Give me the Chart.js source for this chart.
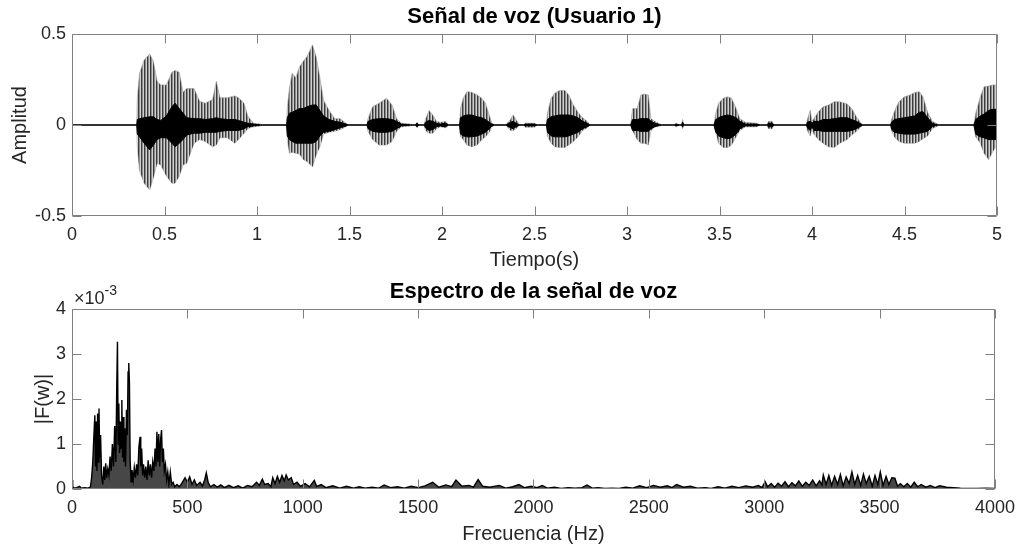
<!DOCTYPE html>
<html>
<head>
<meta charset="utf-8">
<script src="https://cdn.jsdelivr.net/npm/chart.js@4.4.1/dist/chart.umd.min.js"></script>
<style>
  body { margin: 0; background: #fff; }
  #fig { position: relative; width: 1023px; height: 548px; }
  canvas { position: absolute; left: 0; }
</style>
</head>
<body>
<div id="fig">
  <canvas id="senal" width="1023" height="274" style="top:0"></canvas>
  <canvas id="espectro" width="1023" height="274" style="top:274px"></canvas>
</div>
<script>
// --- señal de voz: envolvente (picos) y núcleo oscuro ---
const tiempo = [0, 0.35,
  0.353, 0.365, 0.39, 0.42, 0.44, 0.46, 0.48, 0.51, 0.54, 0.557, 0.58, 0.60, 0.62, 0.66, 0.69, 0.72, 0.76, 0.78, 0.80, 0.84, 0.88, 0.90, 0.93, 0.95, 0.98, 1.02, 1.03,
  1.16, 1.164, 1.175, 1.19, 1.21, 1.23, 1.25, 1.27, 1.30, 1.32, 1.34, 1.36, 1.39, 1.42, 1.45, 1.48, 1.495,
  1.595, 1.60, 1.625, 1.66, 1.70, 1.73, 1.755, 1.78, 1.83, 1.84, 1.855, 1.865, 1.875,
  1.905, 1.91, 1.93, 1.95, 1.97, 1.99, 2.02, 2.035,
  2.095, 2.10, 2.115, 2.135, 2.16, 2.19, 2.215, 2.235, 2.255, 2.27, 2.285,
  2.345, 2.37, 2.385, 2.40, 2.42, 2.44, 2.45, 2.50, 2.515,
  2.565, 2.57, 2.59, 2.61, 2.635, 2.665, 2.685, 2.71, 2.735, 2.76, 2.785, 2.80,
  3.02, 3.03, 3.055, 3.075, 3.095, 3.115, 3.13, 3.15, 3.18, 3.19,
  3.255, 3.265, 3.285, 3.295, 3.30, 3.31,
  3.47, 3.48, 3.495, 3.52, 3.545, 3.565, 3.59, 3.61, 3.64, 3.70, 3.72, 3.755, 3.765, 3.785, 3.795,
  3.97, 3.975, 3.99, 4.0, 4.01, 4.035, 4.06, 4.09, 4.12, 4.15, 4.19, 4.215, 4.24, 4.265, 4.275,
  4.425, 4.43, 4.445, 4.47, 4.50, 4.53, 4.555, 4.58, 4.60, 4.625, 4.65, 4.68, 4.69,
  4.875, 4.885, 4.91, 4.93, 4.955, 4.975, 5.0];
const envSup = [0, 0,
  0.15, 0.284, 0.357, 0.39, 0.35, 0.24, 0.22, 0.22, 0.29, 0.3, 0.29, 0.18, 0.2, 0.2, 0.13, 0.12, 0.14, 0.24, 0.15, 0.15, 0.16, 0.15, 0.12, 0.05, 0.01, 0.005, 0,
  0, 0.1, 0.2, 0.285, 0.26, 0.32, 0.35, 0.375, 0.44, 0.375, 0.26, 0.135, 0.08, 0.035, 0.035, 0.01, 0,
  0, 0.035, 0.1, 0.12, 0.147, 0.11, 0.035, 0.01, 0.005, 0, 0, 0.015, 0,
  0, 0.03, 0.08, 0.055, 0.02, 0.015, 0.02, 0,
  0, 0.09, 0.147, 0.183, 0.18, 0.165, 0.147, 0.12, 0.055, 0.01, 0,
  0, 0.03, 0.055, 0.03, 0, 0, 0.01, 0.01, 0,
  0, 0.065, 0.147, 0.175, 0.19, 0.19, 0.165, 0.11, 0.07, 0.04, 0.02, 0,
  0, 0.09, 0.09, 0.165, 0.17, 0.165, 0.035, 0.02, 0.005, 0,
  0, 0.01, 0, 0, 0.03, 0,
  0, 0.065, 0.12, 0.147, 0.155, 0.147, 0.09, 0.035, 0.015, 0.01, 0, 0, 0.02, 0.02, 0,
  0, 0.03, 0.08, 0.02, 0.035, 0.073, 0.1, 0.11, 0.128, 0.128, 0.115, 0.09, 0.045, 0.01, 0,
  0, 0.03, 0.073, 0.128, 0.155, 0.165, 0.178, 0.183, 0.155, 0.07, 0.02, 0.005, 0,
  0, 0.065, 0.155, 0.21, 0.214, 0.22, 0.22];
const envInf = [0, 0,
  -0.12, -0.25, -0.32, -0.357, -0.29, -0.21, -0.22, -0.28, -0.32, -0.32, -0.28, -0.22, -0.21, -0.1, -0.08, -0.09, -0.12, -0.11, -0.07, -0.07, -0.1, -0.08, -0.045, -0.02, -0.01, -0.005, 0,
  0, -0.08, -0.155, -0.15, -0.155, -0.16, -0.19, -0.2, -0.23, -0.165, -0.12, -0.05, -0.04, -0.035, -0.025, -0.01, 0,
  0, -0.035, -0.08, -0.11, -0.11, -0.09, -0.035, -0.01, -0.005, 0, 0, -0.015, 0,
  0, -0.03, -0.045, -0.045, -0.02, -0.01, -0.015, 0,
  0, -0.065, -0.08, -0.11, -0.12, -0.11, -0.08, -0.065, -0.04, -0.01, 0,
  0, -0.03, -0.03, -0.02, 0, 0, -0.012, -0.012, 0,
  0, -0.06, -0.1, -0.12, -0.123, -0.123, -0.11, -0.09, -0.065, -0.03, -0.015, 0,
  0, -0.03, -0.08, -0.1, -0.1, -0.11, -0.03, -0.01, -0.005, 0,
  0, -0.01, 0, 0, -0.02, 0,
  0, -0.04, -0.1, -0.123, -0.123, -0.11, -0.065, -0.03, -0.01, -0.01, 0, 0, -0.02, -0.02, 0,
  0, -0.03, -0.06, -0.02, -0.05, -0.08, -0.1, -0.12, -0.123, -0.1, -0.08, -0.055, -0.035, -0.01, 0,
  0, -0.03, -0.065, -0.09, -0.1, -0.1, -0.1, -0.09, -0.075, -0.06, -0.02, -0.005, 0,
  0, -0.065, -0.1, -0.155, -0.19, -0.15, -0.11];
const nucSup = [0, 0,
  0.03, 0.035, 0.04, 0.045, 0.045, 0.03, 0.025, 0.05, 0.1, 0.12, 0.09, 0.065, 0.04, 0.035, 0.035, 0.03, 0.035, 0.04, 0.035, 0.03, 0.03, 0.025, 0.015, 0.01, 0.005, 0, 0,
  0, 0.04, 0.065, 0.07, 0.08, 0.09, 0.09, 0.1, 0.11, 0.11, 0.08, 0.05, 0.03, 0.02, 0.015, 0.005, 0,
  0, 0.02, 0.03, 0.035, 0.035, 0.03, 0.02, 0.005, 0, 0, 0, 0.01, 0,
  0, 0.015, 0.025, 0.02, 0.01, 0.005, 0.01, 0,
  0, 0.04, 0.05, 0.055, 0.055, 0.045, 0.04, 0.03, 0.015, 0.005, 0,
  0, 0.015, 0.02, 0.01, 0, 0, 0.005, 0.005, 0,
  0, 0.03, 0.046, 0.05, 0.055, 0.055, 0.055, 0.05, 0.04, 0.02, 0.01, 0,
  0, 0.03, 0.03, 0.035, 0.035, 0.035, 0.02, 0.01, 0, 0,
  0, 0.005, 0, 0, 0.015, 0,
  0, 0.03, 0.04, 0.05, 0.055, 0.05, 0.04, 0.02, 0.005, 0.005, 0, 0, 0.01, 0.01, 0,
  0, 0.015, 0.02, 0.01, 0.02, 0.02, 0.03, 0.03, 0.035, 0.04, 0.04, 0.03, 0.02, 0.005, 0,
  0, 0.015, 0.03, 0.035, 0.04, 0.045, 0.05, 0.07, 0.073, 0.04, 0.01, 0, 0,
  0, 0.03, 0.05, 0.06, 0.08, 0.086, 0.086];
const nucInf = [0, 0,
  -0.05, -0.065, -0.1, -0.137, -0.11, -0.08, -0.07, -0.07, -0.1, -0.12, -0.1, -0.08, -0.055, -0.045, -0.045, -0.04, -0.04, -0.04, -0.035, -0.03, -0.03, -0.03, -0.02, -0.01, -0.005, 0, 0,
  0, -0.06, -0.08, -0.09, -0.1, -0.1, -0.1, -0.1, -0.1, -0.09, -0.06, -0.04, -0.035, -0.025, -0.015, -0.005, 0,
  0, -0.02, -0.035, -0.04, -0.04, -0.035, -0.02, -0.005, 0, 0, 0, -0.01, 0,
  0, -0.015, -0.03, -0.025, -0.01, -0.005, -0.01, 0,
  0, -0.05, -0.06, -0.065, -0.065, -0.06, -0.05, -0.04, -0.02, -0.005, 0,
  0, -0.015, -0.02, -0.01, 0, 0, -0.005, -0.005, 0,
  0, -0.04, -0.06, -0.065, -0.065, -0.065, -0.06, -0.05, -0.04, -0.02, -0.01, 0,
  0, -0.03, -0.03, -0.035, -0.035, -0.035, -0.02, -0.01, 0, 0,
  0, -0.005, 0, 0, -0.01, 0,
  0, -0.04, -0.06, -0.07, -0.075, -0.07, -0.05, -0.02, -0.005, -0.005, 0, 0, -0.01, -0.01, 0,
  0, -0.015, -0.03, -0.01, -0.03, -0.03, -0.035, -0.035, -0.035, -0.035, -0.035, -0.03, -0.02, -0.005, 0,
  0, -0.02, -0.04, -0.045, -0.05, -0.05, -0.05, -0.045, -0.04, -0.035, -0.01, 0, 0,
  0, -0.05, -0.065, -0.07, -0.08, -0.08, -0.08];

// --- espectro |F(w)| en unidades de 1e-3 ---
const frecuencia = [0, 3, 10, 20, 33, 40, 55, 70, 80,
  85, 90, 95, 99, 102, 105, 108, 111, 114, 117, 120, 124,
  128, 133, 138, 142, 146, 150, 155, 160, 165, 170, 175, 180, 185, 190,
  194, 197, 200, 203, 206, 210, 213, 216, 219, 222, 225, 228, 232, 236, 240, 243, 246, 249,
  252, 256, 260, 265, 270, 275, 280, 285, 290, 295, 298,
  302, 306, 310, 315, 320, 325, 330, 335, 340, 345, 350, 355,
  360, 364, 368, 372, 376, 380, 384, 388, 392, 396, 400,
  405, 410, 415, 420, 426, 432, 438, 445, 455, 465,
  475, 490, 500, 510, 520, 530, 540, 555, 565, 575, 582, 590, 600,
  615, 630, 645, 660, 680, 700, 720, 740, 760, 780, 800,
  812, 825, 835, 850, 862, 870, 880, 890, 900, 910, 920, 928, 938, 950,
  960, 975, 990, 1010, 1030, 1050, 1060, 1080, 1100,
  1130, 1160, 1190, 1220, 1245, 1270, 1300, 1330, 1353, 1380, 1410, 1440,
  1470, 1500, 1530, 1563, 1590, 1620, 1645, 1664, 1690, 1720, 1740, 1760, 1780,
  1810, 1851, 1880, 1910, 1937, 1960, 1990, 2015, 2038, 2060, 2090, 2120, 2150,
  2180, 2210, 2232, 2255, 2280, 2310, 2340, 2370, 2400, 2430, 2460, 2490,
  2520, 2550, 2580, 2600, 2620, 2650, 2680, 2710, 2745, 2770, 2800, 2830, 2860, 2890, 2920, 2950, 2975, 2990,
  3004, 3015, 3030, 3045, 3060, 3075, 3090, 3105, 3120, 3135, 3150, 3165, 3180, 3195, 3210, 3225, 3240, 3250,
  3256, 3268, 3280, 3292, 3305, 3318, 3330, 3342, 3355, 3368, 3380, 3392, 3405, 3418, 3430, 3442, 3455,
  3468, 3480, 3492, 3503, 3515, 3528, 3540, 3553, 3566, 3578, 3590, 3605, 3620, 3635, 3650, 3665, 3680, 3700,
  3720, 3740, 3760, 3790, 3820, 3850, 3880, 3920, 3960, 4000];
const magnitud = [0.2, 0.05, 0.02, 0.03, 0.06, 0.02, 0.03, 0.02, 0.05,
  0.25, 0.6, 1.2, 1.64, 0.5, 1.5, 0.4, 1.68, 0.6, 1.79, 0.7, 1.2,
  0.3, 0.1, 0.5, 0.2, 0.57, 0.25, 0.45, 0.3, 0.72, 0.4, 1.0, 0.5, 1.4, 0.6,
  2.27, 3.27, 1.0, 1.9, 0.8, 1.5, 0.9, 1.98, 0.7, 1.6, 0.6, 1.35, 0.5, 1.76, 1.2, 2.6, 2.8, 2.35,
  0.64, 0.16, 0.42, 0.2, 0.48, 0.25, 0.55, 0.3, 0.94, 1.16, 0.5,
  0.9, 0.3, 0.55, 0.25, 0.5, 0.2, 0.64, 0.3, 0.55, 0.25, 0.6, 0.4,
  0.9, 0.5, 1.27, 0.6, 1.22, 0.5, 1.1, 1.31, 0.6, 0.9, 0.4,
  0.55, 0.2, 0.38, 0.1, 0.38, 0.1, 0.15, 0.05, 0.1, 0.05,
  0.12, 0.25, 0.15, 0.27, 0.1, 0.2, 0.08, 0.15, 0.07, 0.2, 0.36, 0.15, 0.05,
  0.1, 0.04, 0.09, 0.03, 0.08, 0.03, 0.07, 0.02, 0.08, 0.05, 0.15,
  0.08, 0.22, 0.1, 0.12, 0.05, 0.25, 0.12, 0.28, 0.15, 0.3, 0.18, 0.31, 0.2, 0.25,
  0.1, 0.15, 0.06, 0.12, 0.05, 0.19, 0.06, 0.1, 0.03,
  0.07, 0.02, 0.06, 0.02, 0.05, 0.02, 0.04, 0.02, 0.09, 0.03, 0.05, 0.02,
  0.06, 0.03, 0.07, 0.15, 0.04, 0.09, 0.05, 0.2, 0.06, 0.08, 0.04, 0.21, 0.06,
  0.04, 0.08, 0.02, 0.05, 0.1, 0.03, 0.06, 0.03, 0.08, 0.02, 0.04, 0.01, 0.03,
  0.02, 0.03, 0.09, 0.02, 0.03, 0.01, 0.02, 0.01, 0.04, 0.02, 0.07, 0.03,
  0.08, 0.04, 0.07, 0.03, 0.1, 0.04, 0.06, 0.02, 0.03, 0.01, 0.05, 0.02, 0.06, 0.03, 0.07, 0.04, 0.08, 0.03,
  0.16, 0.05, 0.12, 0.04, 0.13, 0.06, 0.16, 0.05, 0.14, 0.07, 0.18, 0.06, 0.15, 0.08, 0.2, 0.07, 0.18, 0.09,
  0.31, 0.1, 0.3, 0.08, 0.28, 0.1, 0.32, 0.07, 0.27, 0.12, 0.38, 0.1, 0.3, 0.08, 0.33, 0.12, 0.28,
  0.06, 0.3, 0.1, 0.38, 0.08, 0.28, 0.1, 0.25, 0.24, 0.06, 0.12, 0.05, 0.12, 0.04, 0.15, 0.05, 0.1, 0.04,
  0.08, 0.03, 0.07, 0.04, 0.03, 0.02, 0.015, 0.01, 0.015, 0.01];

const ticksTiempo = [0, 0.5, 1, 1.5, 2, 2.5, 3, 3.5, 4, 4.5, 5];
const ticksAmplitud = [-0.5, 0, 0.5];
const ticksFrec = [0, 500, 1000, 1500, 2000, 2500, 3000, 3500, 4000];
const ticksMag = [0, 1, 2, 3, 4];

Chart.defaults.font.family = '"Liberation Sans", Arial, sans-serif';
Chart.defaults.color = '#262626';

const pares = (xs, ys) => xs.map((x, i) => ({x: x, y: ys[i]}));

// patron de rayas verticales para imitar los pulsos de la señal
const rayas = document.createElement('canvas');
rayas.width = 3; rayas.height = 1;
const rctx = rayas.getContext('2d');
['#3c3c3c', '#8c8c8c', '#d0d0d0'].forEach((c, i) => { rctx.fillStyle = c; rctx.fillRect(i, 0, 1, 1); });
const patron = rctx.createPattern(rayas, 'repeat');

// caja y marcas hacia dentro, estilo MATLAB
const marco = {
  id: 'marco',
  afterDatasetsDraw(chart) {
    const {ctx, chartArea: a, scales} = chart;
    const L = Math.round(a.left) + 0.5, R = Math.round(a.right) - 0.5;
    const T = Math.round(a.top) + 0.5, B = Math.round(a.bottom) - 0.5;
    ctx.save();
    ctx.strokeStyle = '#808080';
    ctx.lineWidth = 1;
    ctx.beginPath();
    ctx.rect(L, T, R - L, B - T);
    scales.x.ticks.forEach(t => {
      const px = Math.round(scales.x.getPixelForValue(t.value)) + 0.5;
      ctx.moveTo(px, B); ctx.lineTo(px, B - 9);
      ctx.moveTo(px, T); ctx.lineTo(px, T + 9);
    });
    scales.y.ticks.forEach(t => {
      const py = Math.round(scales.y.getPixelForValue(t.value)) + 0.5;
      ctx.moveTo(L, py); ctx.lineTo(L + 9, py);
      ctx.moveTo(R, py); ctx.lineTo(R - 9, py);
    });
    ctx.stroke();
    ctx.restore();
  }
};

// multiplicador ×10^-3 sobre el eje
const exponente = {
  id: 'exponente',
  afterDraw(chart) {
    const {ctx} = chart;
    ctx.save();
    ctx.fillStyle = '#262626';
    ctx.textBaseline = 'alphabetic';
    ctx.font = '18px "Liberation Sans", Arial, sans-serif';
    ctx.fillText('\u00d710', 74, 30);
    const w = ctx.measureText('\u00d710').width;
    ctx.font = '14px "Liberation Sans", Arial, sans-serif';
    ctx.fillText('-3', 74 + w, 21);
    ctx.restore();
  }
};

function ejeX(min, max, lista, titulo, alto) {
  return {
    type: 'linear', min: min, max: max,
    afterBuildTicks: s => { s.ticks = lista.map(v => ({value: v})); },
    afterFit: s => { s.height = alto; },
    grid: {display: false, drawTicks: false}, border: {display: false},
    ticks: {padding: 8, maxRotation: 0, autoSkip: false, font: {size: 18}, callback: v => String(v)},
    title: {display: true, text: titulo, color: '#262626', font: {size: 20}, padding: {top: 0, bottom: 2}}
  };
}
function ejeY(min, max, lista, titulo, padTitulo) {
  return {
    min: min, max: max,
    afterBuildTicks: s => { s.ticks = lista.map(v => ({value: v})); },
    afterFit: s => { s.width = 72; },
    grid: {display: false, drawTicks: false}, border: {display: false},
    ticks: {padding: 6, autoSkip: false, font: {size: 18}, callback: v => String(v)},
    title: {display: true, text: titulo, color: '#262626', font: {size: 20}, padding: {top: padTitulo, bottom: 0}}
  };
}

new Chart(document.getElementById('senal'), {
  type: 'line',
  data: {
    datasets: [
      {data: pares(tiempo, nucSup), borderColor: '#000', borderWidth: 1, backgroundColor: '#000', fill: '+1', order: 1},
      {data: pares(tiempo, nucInf), borderColor: '#000', borderWidth: 1, fill: false, order: 1},
      {data: pares(tiempo, envSup), borderColor: '#9a9a9a', borderWidth: 0.6, backgroundColor: patron, fill: '+1', order: 2},
      {data: pares(tiempo, envInf), borderColor: '#9a9a9a', borderWidth: 0.6, fill: false, order: 2}
    ]
  },
  options: {
    responsive: false, animation: false,
    layout: {padding: {left: 0, right: 26, top: 0, bottom: 0}},
    elements: {point: {radius: 0}, line: {tension: 0}},
    plugins: {
      legend: {display: false}, tooltip: {enabled: false},
      title: {display: true, fullSize: false, text: 'Señal de voz (Usuario 1)', color: '#000',
        font: {size: 22, weight: 'bold', lineHeight: '24px'}, padding: {top: 5, bottom: 5}}
    },
    scales: {
      x: ejeX(0, 5, ticksTiempo, 'Tiempo(s)', 58),
      y: ejeY(-0.5, 0.5, ticksAmplitud, 'Amplitud', 8)
    }
  },
  plugins: [marco]
});

new Chart(document.getElementById('espectro'), {
  type: 'line',
  data: {
    datasets: [
      {data: pares(frecuencia, magnitud), borderColor: '#000', borderWidth: 1.4,
        backgroundColor: 'rgba(0,0,0,0.72)', fill: 'origin'}
    ]
  },
  options: {
    responsive: false, animation: false,
    layout: {padding: {left: 0, right: 26, top: 0, bottom: 0}},
    elements: {point: {radius: 0}, line: {tension: 0}},
    plugins: {
      legend: {display: false}, tooltip: {enabled: false},
      title: {display: true, fullSize: false, text: 'Espectro de la señal de voz', color: '#000',
        font: {size: 22, weight: 'bold', lineHeight: '24px'}, padding: {top: 6, bottom: 5}}
    },
    scales: {
      x: ejeX(0, 4000, ticksFrec, 'Frecuencia (Hz)', 59),
      y: ejeY(0, 4, ticksMag, '|F(w)|', 31)
    }
  },
  plugins: [marco, exponente]
});
</script>
</body>
</html>
